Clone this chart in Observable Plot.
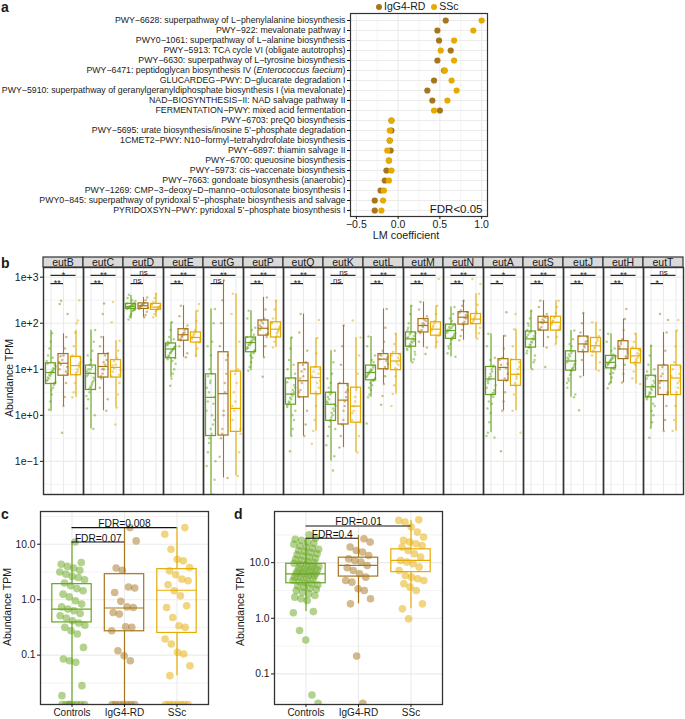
<!DOCTYPE html>
<html><head><meta charset="utf-8">
<script src="https://cdn.jsdelivr.net/npm/d3@7"></script>
<script src="https://cdn.jsdelivr.net/npm/@observablehq/plot@0.6"></script>
<style>
body{margin:0;background:#fff;}
#fig{position:relative;width:685px;height:719px;overflow:hidden;font-family:"Liberation Sans",Arial,Helvetica,sans-serif;color:#1a1a1a;}
.lab{position:absolute;font-weight:bold;font-size:14px;line-height:1;}
.ytitle{position:absolute;font-size:10.5px;white-space:nowrap;transform:translate(-50%,-50%) rotate(-90deg);}
.xtitle{position:absolute;font-size:10.8px;white-space:nowrap;transform:translate(-50%,0);}
.leg{position:absolute;font-size:10.5px;white-space:nowrap;line-height:12px;}
.leg i{display:inline-block;width:6px;height:6px;border-radius:50%;margin:0 2px 1px 0;vertical-align:middle;}
</style></head>
<body><div id="fig"></div>
<script>
const FONT = '"Liberation Sans", Arial, Helvetica, sans-serif';
const groups = ["Controls", "IgG4-RD", "SSc"];
const groupColors = ["#66a61e", "#a6761d", "#e6ab02"];

// ---------- Panel a ----------
const pathways = [
  "PWY−6628: superpathway of L−phenylalanine biosynthesis",
  "PWY−922: mevalonate pathway I",
  "PWY0−1061: superpathway of L−alanine biosynthesis",
  "PWY−5913: TCA cycle VI (obligate autotrophs)",
  "PWY−6630: superpathway of L−tyrosine biosynthesis",
  "PWY−6471: peptidoglycan biosynthesis IV (Enterococcus faecium)",
  "GLUCARDEG−PWY: D−glucarate degradation I",
  "PWY−5910: superpathway of geranylgeranyldiphosphate biosynthesis I (via mevalonate)",
  "NAD−BIOSYNTHESIS−II: NAD salvage pathway II",
  "FERMENTATION−PWY: mixed acid fermentation",
  "PWY−6703: preQ0 biosynthesis",
  "PWY−5695: urate biosynthesis/inosine 5'−phosphate degradation",
  "1CMET2−PWY: N10−formyl−tetrahydrofolate biosynthesis",
  "PWY−6897: thiamin salvage II",
  "PWY−6700: queuosine biosynthesis",
  "PWY−5973: cis−vaccenate biosynthesis",
  "PWY−7663: gondoate biosynthesis (anaerobic)",
  "PWY−1269: CMP−3−deoxy−D−manno−octulosonate biosynthesis I",
  "PWY0−845: superpathway of pyridoxal 5'−phosphate biosynthesis and salvage",
  "PYRIDOXSYN−PWY: pyridoxal 5'−phosphate biosynthesis I"
];
const coefIgG4 = [0.57,0.47,0.49,0.63,0.47,0.55,0.43,0.35,0.41,0.50,-0.08,-0.08,-0.10,-0.09,-0.11,-0.14,-0.16,-0.21,-0.28,-0.28];
const coefSSc  = [1.00,0.90,0.67,0.51,0.67,0.56,0.64,0.70,0.59,0.43,-0.08,-0.10,-0.10,-0.13,-0.11,-0.08,-0.11,-0.17,-0.18,-0.20];
const coefTicks = [-0.5, 0, 0.5, 1.0];
const coefMinor = [-0.25, 0.25, 0.75];

// ---------- Panel b ----------
const genes = ["eutB","eutC","eutD","eutE","eutG","eutP","eutQ","eutK","eutL","eutM","eutN","eutA","eutS","eutJ","eutH","eutT"];
const sigCtrlSSc  = ["*","**","ns","**","**","**","**","ns","**","**","**","*","**","**","**","ns"];
const sigCtrlIgG4 = ["**","**","ns","**","ns","**","**","ns","**","**","**","*","**","**","**","*"];
const sigLevelTop = 3.04, sigLevelLow = 2.86; // log10 TPM
// box stats, log10 TPM: [lower whisker, Q1, median, Q3, upper whisker]
const boxCtrl = [
  [0.09,0.68,0.93,1.13,1.84],[-0.30,0.55,0.91,1.08,1.85],[2.09,2.31,2.36,2.42,2.60],[0.82,1.24,1.44,1.56,2.02],
  [-1.72,-0.45,0.39,0.89,2.31],[0.97,1.37,1.58,1.69,2.27],[-0.45,0.23,0.46,0.80,1.69],[-1.0,-0.12,0.24,0.49,1.40],
  [0.39,0.76,0.93,1.08,1.71],[1.15,1.49,1.66,1.80,2.38],[1.27,1.66,1.84,1.97,2.35],[-0.38,0.44,0.79,1.05,1.77],
  [1.00,1.47,1.66,1.82,2.27],[0.39,0.97,1.18,1.39,1.84],[0.68,1.02,1.15,1.29,1.77],[-0.27,0.39,0.62,0.86,1.51]];
const boxIgG4 = [
  [0.20,0.86,1.13,1.33,1.77],[0.10,0.82,1.06,1.33,1.71],[2.13,2.31,2.38,2.43,2.56],[1.26,1.62,1.75,1.87,2.38],
  [-1.36,-0.44,0.47,1.37,2.93],[1.26,1.73,1.89,2.06,2.56],[-0.45,0.39,0.75,1.13,2.20],[-0.70,-0.20,0.33,0.68,1.95],
  [0.68,1.00,1.22,1.33,2.31],[1.47,1.80,1.95,2.09,2.46],[1.63,1.97,2.13,2.24,2.49],[0.10,0.75,1.04,1.22,1.73],
  [1.47,1.84,2.02,2.14,2.49],[0.84,1.37,1.55,1.71,2.22],[0.71,1.22,1.44,1.61,2.09],[-0.34,0.44,0.75,1.08,1.80]];
const boxSSc = [
  [0.39,0.87,1.08,1.27,1.84],[0.17,0.82,1.04,1.20,1.62],[2.13,2.29,2.35,2.42,2.64],[1.26,1.58,1.69,1.80,2.27],
  [-1.32,-0.36,0.15,0.95,2.64],[1.47,1.69,1.87,2.02,2.49],[-0.34,0.46,0.82,1.04,1.68],[-0.81,-0.16,0.20,0.60,1.69],
  [0.46,0.98,1.18,1.33,1.77],[1.47,1.73,1.87,2.02,2.38],[1.66,1.98,2.09,2.20,2.64],[0.10,0.64,0.89,1.20,1.87],
  [1.55,1.84,2.02,2.14,2.49],[0.97,1.37,1.51,1.68,2.02],[0.68,1.13,1.29,1.44,1.77],[-0.34,0.44,0.81,1.08,1.84]];
// observed sample points, log10 TPM
const ptsCtrl = [
  [1.78,1.6,1.45,1.3,1.18,1.1,1.02,0.97,0.93,0.88,0.82,0.75,0.7,0.6,0.45,0.3,0.12,1.12,1.06,1.0,0.96,0.9,0.86,0.8,0.76,0.72,0.66,1.25,0.55],
  [1.85,1.6,1.4,1.2,1.1,1.0,0.95,0.9,0.82,0.7,0.6,0.5,0.35,0.15,0.0,-0.3,1.05,1.0,0.93,0.88,0.85,0.78,0.74,0.66,0.62,0.57,1.3,0.42],
  [2.62,2.55,2.48,2.44,2.41,2.39,2.37,2.36,2.34,2.32,2.3,2.26,2.2,2.14,2.08,2.43,2.42,2.4,2.38,2.37,2.35,2.33,2.31,2.29,2.28,2.5,2.18],
  [2.02,1.85,1.7,1.6,1.54,1.48,1.44,1.4,1.34,1.28,1.22,1.12,1.0,0.9,0.8,0.64,1.56,1.52,1.5,1.46,1.42,1.38,1.36,1.3,1.26,1.24,1.65,1.18],
  [2.31,2.0,1.6,1.3,1.0,0.85,0.6,0.4,0.25,0.0,-0.3,-0.5,-0.8,-1.1,-1.4,-1.72,0.9,0.75,0.5,0.3,0.1,-0.1,-0.2,-0.4,0.7,-0.6,1.5,-1.0],
  [2.27,2.1,1.9,1.75,1.68,1.62,1.58,1.54,1.48,1.42,1.35,1.25,1.15,1.05,0.97,1.7,1.66,1.64,1.6,1.56,1.52,1.46,1.44,1.4,1.38,1.85,1.3],
  [1.69,1.45,1.2,1.0,0.8,0.65,0.55,0.46,0.38,0.3,0.22,0.1,-0.1,-0.3,-0.45,-0.78,0.8,0.72,0.6,0.5,0.42,0.35,0.28,0.25,0.18,0.9,1.1,0.0],
  [1.4,1.15,0.9,0.7,0.5,0.4,0.3,0.24,0.15,0.05,-0.1,-0.25,-0.45,-0.65,-0.89,-1.2,0.49,0.45,0.35,0.28,0.2,0.1,0.0,-0.05,-0.12,0.6,0.8,-0.3],
  [1.71,1.5,1.3,1.15,1.08,1.0,0.95,0.9,0.85,0.8,0.75,0.65,0.55,0.45,0.39,-0.18,1.08,1.04,0.98,0.96,0.92,0.88,0.83,0.78,0.76,1.2,0.7,0.6],
  [2.38,2.2,2.0,1.85,1.78,1.72,1.66,1.6,1.55,1.5,1.42,1.32,1.22,1.15,1.8,1.76,1.7,1.68,1.64,1.62,1.58,1.52,1.49,1.9,1.45,1.38],
  [2.35,2.2,2.05,1.98,1.92,1.86,1.82,1.76,1.7,1.64,1.55,1.45,1.35,1.27,1.97,1.94,1.9,1.88,1.84,1.8,1.78,1.72,1.68,1.66,2.1,1.5],
  [1.77,1.5,1.25,1.08,0.95,0.85,0.78,0.7,0.6,0.5,0.4,0.25,0.05,-0.15,-0.38,-0.45,-0.48,1.05,1.0,0.9,0.82,0.75,0.65,0.55,0.48,0.44,1.2,0.3,0.15],
  [2.27,2.1,1.95,1.85,1.78,1.72,1.66,1.6,1.54,1.48,1.4,1.3,1.15,1.0,1.82,1.8,1.75,1.7,1.68,1.64,1.58,1.52,1.47,2.0,1.35,1.2],
  [1.84,1.65,1.5,1.4,1.32,1.25,1.18,1.1,1.02,0.97,0.88,0.75,0.6,0.45,0.39,1.39,1.35,1.28,1.22,1.15,1.12,1.05,1.0,0.97,1.55,0.8,0.7],
  [1.77,1.6,1.45,1.32,1.26,1.2,1.15,1.1,1.05,1.0,0.92,0.82,0.72,0.68,0.59,1.29,1.28,1.24,1.22,1.18,1.13,1.12,1.08,1.04,1.02,1.4,0.9],
  [1.51,1.3,1.1,0.95,0.85,0.75,0.65,0.58,0.5,0.42,0.35,0.2,0.0,-0.15,-0.27,-0.49,0.86,0.8,0.7,0.62,0.55,0.48,0.45,0.4,0.39,1.0,0.25,0.1]];
const ptsIgG4 = [
  [2.49,2.42,2.2,1.7,1.45,1.3,1.2,1.1,1.0,0.9,0.7,0.4,0.2,-0.38,1.28,1.15,1.05,0.95],
  [2.43,2.2,1.7,1.5,1.35,1.2,1.1,1.0,0.9,0.8,0.6,0.35,0.1,1.3,1.15,1.0,0.85],
  [2.56,2.5,2.44,2.41,2.38,2.35,2.31,2.25,2.18,2.13,2.42,2.39,2.36,2.33],
  [2.38,2.15,1.95,1.88,1.8,1.75,1.7,1.63,1.5,1.35,1.26,1.85,1.78,1.72,1.66],
  [2.93,2.5,2.0,1.5,1.3,0.9,0.5,0.1,-0.3,-0.5,-0.9,-1.36,1.2,0.7,0.0,-0.4],
  [2.56,2.3,2.1,2.0,1.92,1.86,1.78,1.7,1.5,1.26,0.84,2.04,1.95,1.88,1.76],
  [2.2,1.8,1.4,1.15,1.0,0.85,0.7,0.55,0.4,0.1,-0.2,-0.45,1.1,0.95,0.8,0.5],
  [1.95,1.5,1.1,0.7,0.55,0.4,0.3,0.1,-0.2,-0.45,-0.7,0.65,0.5,0.2,-0.1],
  [2.31,1.9,1.6,1.4,1.3,1.22,1.12,1.0,0.85,0.68,0.42,0.23,1.32,1.26,1.18,1.05],
  [2.46,2.3,2.15,2.05,1.98,1.92,1.85,1.78,1.6,1.47,1.33,2.08,2.0,1.95,1.82],
  [2.49,2.38,2.28,2.22,2.16,2.1,2.03,1.96,1.85,1.72,1.63,2.24,2.18,2.12,2.0],
  [2.24,1.73,1.45,1.25,1.1,1.0,0.9,0.75,0.5,0.3,0.1,-0.78,1.2,1.12,1.02,0.8],
  [2.49,2.35,2.2,2.12,2.05,2.0,1.92,1.85,1.7,1.47,1.05,2.14,2.08,2.02,1.88],
  [2.22,2.0,1.8,1.72,1.62,1.55,1.48,1.38,1.2,0.84,0.11,1.7,1.6,1.52,1.42],
  [2.31,2.09,1.85,1.65,1.55,1.45,1.35,1.25,1.1,0.9,0.71,1.6,1.5,1.4,1.28],
  [2.2,2.07,1.8,1.4,1.1,0.9,0.75,0.6,0.45,0.2,-0.1,-0.34,1.05,0.85,0.7,0.5]];
const ptsSSc = [
  [2.5,2.06,2.0,1.8,1.5,1.3,1.15,1.05,0.95,0.88,0.7,0.5,0.39,1.25,1.12,1.0,0.92],
  [2.46,2.02,1.62,1.4,1.25,1.1,1.02,0.95,0.85,0.7,0.45,0.17,-0.2,1.18,1.08,0.98,0.88],
  [2.64,2.55,2.46,2.42,2.37,2.34,2.3,2.26,2.2,2.13,2.4,2.36,2.32,2.3],
  [2.42,2.27,2.05,1.85,1.76,1.7,1.65,1.58,1.45,1.3,1.8,1.72,1.66,1.6],
  [2.64,2.2,1.6,1.0,0.7,0.3,0.1,-0.1,-0.4,-0.8,-1.32,-1.72,0.9,0.5,0.2,-0.3],
  [2.49,2.3,2.1,2.0,1.93,1.85,1.78,1.7,1.6,1.47,2.02,1.9,1.82,1.72],
  [2.07,1.68,1.35,1.05,0.95,0.85,0.75,0.6,0.45,0.2,-0.1,-0.34,-0.62,1.0,0.9,0.7,0.5],
  [2.06,1.69,1.3,0.9,0.6,0.4,0.2,0.05,-0.15,-0.45,-0.81,0.55,0.3,0.1,-0.1],
  [1.77,1.55,1.38,1.3,1.2,1.1,1.0,0.85,0.65,0.46,0.2,1.32,1.25,1.15,1.02],
  [2.96,2.38,2.2,2.05,1.95,1.88,1.8,1.72,1.6,1.47,2.0,1.92,1.84,1.75],
  [2.96,2.85,2.64,2.4,2.25,2.15,2.08,2.0,1.9,1.78,1.66,2.2,2.12,2.05,2.0],
  [2.2,1.87,1.5,1.22,1.05,0.9,0.8,0.65,0.45,0.1,-0.38,1.15,1.0,0.85,0.7],
  [2.49,2.35,2.22,2.14,2.06,2.0,1.93,1.85,1.7,1.55,2.12,2.04,1.97,1.88],
  [2.02,1.85,1.72,1.62,1.55,1.48,1.4,1.3,1.15,0.97,1.66,1.58,1.45,1.38],
  [1.77,1.6,1.48,1.4,1.32,1.25,1.18,1.1,0.95,0.8,0.68,1.42,1.35,1.22,1.15],
  [2.07,1.84,1.5,1.15,1.0,0.85,0.75,0.6,0.45,0.2,-0.1,-0.34,1.05,0.9,0.7,0.5]];
const bTicks = [0.1, 1, 10, 100, 1000];

// ---------- Panel c ----------
const cCtrl = [1.04,0.67,0.64,0.6,0.57,0.53,0.5,0.46,0.42,0.4,0.36,0.3,0.25,0.2,0.16,0.1,0.05,-0.02,-0.08,-0.13,-0.17,-0.2,-0.25,-0.29,-0.33,-0.38,-0.42,-0.46,-0.5,-0.56,-0.62,-0.86,-1.07,-1.1,-1.13,-1.55,-1.73];
const cIgG4 = [1.3,1.06,0.57,0.53,0.23,0.21,0.13,-0.03,-0.13,-0.14,-0.23,-0.26,-0.49,-0.5,-0.56,-0.92,-1.01,-1.1];
const cSSc  = [1.3,1.18,0.91,0.73,0.7,0.58,0.52,0.45,0.37,0.34,0.27,0.16,0.07,-0.11,-0.14,-0.32,-0.47,-0.5,-0.71,-0.8,-0.95,-0.98,-1.19,-1.37];
const cZeros = [8, 7, 7]; // samples with zero abundance (drawn at axis floor)
const cBox = [[-1.89,-0.41,-0.17,0.28,1.04],[-1.89,-0.57,-0.15,0.46,1.30],[-1.37,-0.60,0.17,0.55,1.30]];
const cFdrLabels = ["FDR=0.07", "FDR=0.008"];
const cFdrLevels = [1.04, 1.30];
const cRange = [-1.89, 1.59];

// ---------- Panel d ----------
const dCtrl = [1.5,1.44,1.42,1.4,1.37,1.35,1.33,1.3,1.28,1.26,1.24,1.22,1.2,1.18,1.16,1.14,1.12,1.1,1.08,1.06,1.04,1.02,1.0,0.99,0.97,0.96,0.94,0.93,0.91,0.9,0.88,0.87,0.85,0.84,0.83,0.81,0.8,0.79,0.77,0.76,0.74,0.73,0.71,0.7,0.68,0.66,0.64,0.62,0.6,0.58,0.56,0.54,0.52,0.5,0.47,0.44,0.41,0.38,0.35,0.32,0.12,0.1,-0.22,-0.39,-1.38,-1.53];
const dIgG4 = [1.43,1.37,1.28,1.22,1.19,1.13,1.07,1.04,1.01,0.95,0.91,0.86,0.8,0.74,0.68,0.65,0.53,0.5,0.35,0.26,-0.68,-1.53];
const dSSc  = [1.77,1.76,1.73,1.64,1.55,1.46,1.4,1.37,1.34,1.31,1.28,1.22,1.16,1.1,1.04,1.01,0.98,0.92,0.86,0.77,0.74,0.71,0.68,0.62,0.56,0.5,0.26,0.17,-0.01];
const dBox = [[0.12,0.63,0.80,0.98,1.44],[0.26,0.75,0.95,1.09,1.49],[0.17,0.83,1.04,1.24,1.76]];
const dFdrLabels = ["FDR=0.4", "FDR=0.01"];
const dFdrLevels = [1.44, 1.66];
const dRange = [-1.55, 1.92];

// ---------- helpers ----------
const fig = document.getElementById("fig");
const jit = (k, w) => ((((k + 1) * 0.6180339887) % 1) - 0.5) * w;
const pow = v => Math.pow(10, v);
const baseStyle = {fontFamily: FONT, fontSize: "10px", color: "#1a1a1a", background: "transparent", overflow: "visible"};
const GRID = "#ebebeb", FRAME = "#333333";
function place(node, left, top) {
  node.style.position = "absolute"; node.style.left = left + "px"; node.style.top = top + "px";
  fig.appendChild(node);
}
function addDiv(cls, html, left, top, extra) {
  const d = document.createElement("div"); d.className = cls; d.innerHTML = html;
  d.style.left = left + "px"; d.style.top = top + "px";
  if (extra) Object.assign(d.style, extra);
  fig.appendChild(d); return d;
}
const minorLog = (lo, hi) => d3.range(Math.ceil(lo - 0.5), Math.floor(hi - 0.5) + 1).map(e => pow(e + 0.5));
const majorLog = (lo, hi) => d3.range(Math.ceil(lo), Math.floor(hi) + 1).map(e => pow(e));

// ---------- draw a ----------
const aData = pathways.flatMap((p, i) => [
  {p, g: 1, v: coefIgG4[i]}, {p, g: 2, v: coefSSc[i]}]);
const pa = Plot.plot({
  width: 490, height: 245, marginTop: 13, marginBottom: 29, marginLeft: 350, marginRight: 3,
  style: baseStyle,
  x: {domain: [-0.57, 1.07]},
  y: {type: "point", domain: pathways, padding: 0.6},
  marks: [
    Plot.gridX(coefMinor, {stroke: GRID, strokeOpacity: 1, strokeWidth: 0.6}),
    Plot.gridX(coefTicks, {stroke: GRID, strokeOpacity: 1, strokeWidth: 1.1}),
    Plot.gridY(pathways, {stroke: GRID, strokeOpacity: 1, strokeWidth: 1.1}),
    Plot.dot(aData, {x: "v", y: "p", r: 3.1, fill: d => groupColors[d.g]}),
    Plot.text(["FDR<0.05"], {frameAnchor: "bottom-right", text: d => d, dx: -5, dy: -4, fontSize: 11.5, fill: "#1a1a1a"}),
    Plot.frame({stroke: FRAME, strokeWidth: 1.2}),
    Plot.axisX(coefTicks, {tickFormat: d3.format(".1f"), tickSize: 3, tickPadding: 1, fontSize: 10.5, label: null}),
    Plot.axisY({tickSize: 3, tickPadding: 2, fontSize: 8.75, label: null})
  ]
});
place(pa, 0, 0);
d3.select(pa).selectAll("text").each(function () {
  const t = this.textContent;
  if (t.includes("Enterococcus faecium") && this.childElementCount === 0) {
    const pre = t.slice(0, t.indexOf("(") + 1);
    const s = d3.select(this); s.text(null);
    s.append("tspan").text(pre);
    s.append("tspan").attr("font-style", "italic").text("Enterococcus faecium");
    s.append("tspan").text(")");
  }
});
addDiv("xtitle", "LM coefficient", 406, 229);
addDiv("leg", `<i style="background:${groupColors[1]}"></i>IgG4-RD&nbsp;&nbsp;<i style="background:${groupColors[2]}"></i>SSc`, 376, 0);

// ---------- draw b ----------
const bBoxes = [], bPts = [];
genes.forEach((g, i) => {
  [boxCtrl, boxIgG4, boxSSc].forEach((arr, j) => {
    const s = arr[i];
    bBoxes.push({gene: g, j, lo: pow(s[0]), q1: pow(s[1]), med: pow(s[2]), q3: pow(s[3]), hi: pow(s[4])});
  });
  [ptsCtrl, ptsIgG4, ptsSSc].forEach((arr, j) => {
    arr[i].forEach((v, k) => bPts.push({gene: g, j, x: j + jit(k * 3 + i * 7 + j, 0.74), y: pow(v)}));
  });
});
const bSig = genes.map((g, i) => ({gene: g, top: sigCtrlSSc[i], low: sigCtrlIgG4[i]}));
const bLo = -1.72, bHi = 3.21;
const bFmt = d => { const e = Math.round(Math.log10(d)); return "1e" + (e < 0 ? "−" : "+") + Math.abs(e); };
const pb = Plot.plot({
  width: 685, height: 245, marginTop: 17, marginBottom: 1, marginLeft: 43, marginRight: 2,
  style: baseStyle,
  fx: {domain: genes, padding: 0, axis: null},
  x: {domain: [-0.6, 2.6], axis: null},
  y: {type: "log", domain: [pow(bLo), pow(bHi)]},
  marks: [
    Plot.gridY(minorLog(bLo, bHi), {stroke: GRID, strokeOpacity: 1, strokeWidth: 0.6}),
    Plot.gridY(majorLog(bLo, bHi), {stroke: GRID, strokeOpacity: 1, strokeWidth: 1.1}),
    Plot.gridX([0, 1, 2], {stroke: GRID, strokeOpacity: 1, strokeWidth: 1.1}),
    Plot.ruleX(bBoxes, {fx: "gene", x: "j", y1: "lo", y2: "q1", stroke: d => groupColors[d.j], strokeWidth: 1.1, clip: true}),
    Plot.ruleX(bBoxes, {fx: "gene", x: "j", y1: "q3", y2: "hi", stroke: d => groupColors[d.j], strokeWidth: 1.1}),
    Plot.dot(bPts, {fx: "gene", x: "x", y: "y", r: 1.25, fill: d => groupColors[d.j], fillOpacity: 0.5, clip: true}),
    Plot.rect(bBoxes, {fx: "gene", x1: d => d.j - 0.4, x2: d => d.j + 0.4, y1: "q1", y2: "q3", fill: "none", stroke: d => groupColors[d.j], strokeWidth: 1.25}),
    Plot.ruleY(bBoxes, {fx: "gene", x1: d => d.j - 0.4, x2: d => d.j + 0.4, y: "med", stroke: d => groupColors[d.j], strokeWidth: 1.2}),
    Plot.ruleY(bSig, {fx: "gene", x1: 0, x2: 2, y: pow(sigLevelTop), stroke: "#111", strokeWidth: 1.1}),
    Plot.ruleY(bSig, {fx: "gene", x1: 0, x2: 1, y: pow(sigLevelLow), stroke: "#111", strokeWidth: 1.1}),
    Plot.text(bSig.filter(d => d.top === "ns"), {fx: "gene", x: 1, y: pow(sigLevelTop), text: "top", fontSize: 8, lineAnchor: "bottom", dy: -0.5}),
    Plot.text(bSig.filter(d => d.top !== "ns"), {fx: "gene", x: 1, y: pow(sigLevelTop), text: "top", fontSize: 9, lineAnchor: "bottom", dy: 2.5}),
    Plot.text(bSig.filter(d => d.low === "ns"), {fx: "gene", x: 0.5, y: pow(sigLevelLow), text: "low", fontSize: 8, lineAnchor: "bottom", dy: -0.5}),
    Plot.text(bSig.filter(d => d.low !== "ns"), {fx: "gene", x: 0.5, y: pow(sigLevelLow), text: "low", fontSize: 9, lineAnchor: "bottom", dy: 2.5}),
    Plot.frame({stroke: FRAME, strokeWidth: 1.4}),
    Plot.axisY(bTicks, {tickFormat: bFmt, tickSize: 3, tickPadding: 2, fontSize: 10.5, label: null})
  ]
});
place(pb, 0, 250);
{
  const fx = pb.scale("fx");
  const sv = d3.select(pb);
  genes.forEach(g => {
    const x0 = fx.apply(g), bw = fx.bandwidth;
    sv.append("rect").attr("x", x0).attr("y", 7).attr("width", bw).attr("height", 10)
      .attr("fill", "#d9d9d9").attr("stroke", FRAME).attr("stroke-width", 1.2);
    sv.append("text").attr("x", x0 + bw / 2).attr("y", 15.6).attr("text-anchor", "middle")
      .attr("font-size", 10.5).attr("fill", "#1a1a1a").text(g);
  });
}
addDiv("ytitle", "Abundance TPM", 9, 378);

// ---------- c & d ----------
function groupPanel(vals, zeros, box, fdrLabels, fdrLevels, range) {
  const pts = [];
  vals.forEach((arr, j) => {
    arr.forEach((v, k) => pts.push({j, x: j + jit(k * 2 + j * 5, 0.5), y: pow(v)}));
    for (let z = 0; z < zeros[j]; z++) pts.push({j, x: j + jit(z * 3 + 11 + j, 0.5), y: pow(range[0])});
  });
  const boxes = box.map((s, j) => ({j, lo: pow(s[0]), q1: pow(s[1]), med: pow(s[2]), q3: pow(s[3]), hi: pow(s[4])}));
  const brackets = fdrLabels.map((label, i) => ({label, to: i + 1, level: pow(fdrLevels[i])}));
  return Plot.plot({
    width: 211, height: 219, marginTop: 11, marginBottom: 15, marginLeft: 40, marginRight: 3,
    style: baseStyle,
    x: {domain: [-0.6, 2.6]},
    y: {type: "log", domain: [pow(range[0]), pow(range[1])]},
    marks: [
      Plot.gridY(minorLog(range[0], range[1]), {stroke: GRID, strokeOpacity: 1, strokeWidth: 0.6}),
      Plot.gridY(majorLog(range[0], range[1]), {stroke: GRID, strokeOpacity: 1, strokeWidth: 1.1}),
      Plot.gridX([0, 1, 2], {stroke: GRID, strokeOpacity: 1, strokeWidth: 1.1}),
      Plot.ruleX(boxes, {x: "j", y1: "lo", y2: "q1", stroke: d => groupColors[d.j], strokeWidth: 1.2}),
      Plot.ruleX(boxes, {x: "j", y1: "q3", y2: "hi", stroke: d => groupColors[d.j], strokeWidth: 1.2}),
      Plot.rect(boxes, {x1: d => d.j - 0.375, x2: d => d.j + 0.375, y1: "q1", y2: "q3", fill: "none", stroke: d => groupColors[d.j], strokeWidth: 1.2}),
      Plot.ruleY(boxes, {x1: d => d.j - 0.375, x2: d => d.j + 0.375, y: "med", stroke: d => groupColors[d.j], strokeWidth: 1.2}),
      Plot.dot(pts, {x: "x", y: "y", r: 3.8, fill: d => groupColors[d.j], fillOpacity: 0.5, clip: true}),
      Plot.ruleY(brackets, {x1: 0, x2: "to", y: "level", stroke: "#111", strokeWidth: 1.1}),
      Plot.text(brackets, {x: d => d.to / 2, y: "level", text: "label", fontSize: 10.2, lineAnchor: "bottom", dy: -0.5, fill: "#111"}),
      Plot.frame({stroke: FRAME, strokeWidth: 1.3}),
      Plot.axisY(majorLog(range[0], range[1]), {tickFormat: d3.format(".1f"), tickSize: 3, tickPadding: 2, fontSize: 10.3, label: null}),
      Plot.axisX([0, 1, 2], {tickFormat: i => groups[i], tickSize: 3, tickPadding: 1, fontSize: 10, label: null})
    ]
  });
}
const pc = groupPanel([cCtrl, cIgG4, cSSc], cZeros, cBox, cFdrLabels, cFdrLevels, cRange);
place(pc, 0, 500);
addDiv("ytitle", "Abundance TPM", 7, 607);
const pd = groupPanel([dCtrl, dIgG4, dSSc], [0, 0, 0], dBox, dFdrLabels, dFdrLevels, dRange);
place(pd, 234, 500);
addDiv("ytitle", "Abundance TPM", 240, 607);

// panel letters
addDiv("lab", "a", 1, 0);
addDiv("lab", "b", 1, 256);
addDiv("lab", "c", 1, 507);
addDiv("lab", "d", 234, 507);
</script></body></html>
